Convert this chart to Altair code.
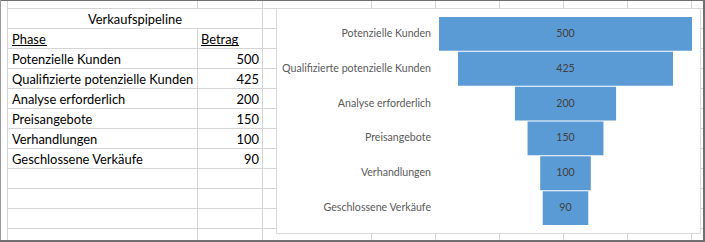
import altair as alt
import pandas as pd

# ---------------- data ----------------
sheet_title = "Verkaufspipeline"
col_headers = ["Phase", "Betrag"]
phases = [
    "Potenzielle Kunden",
    "Qualifizierte potenzielle Kunden",
    "Analyse erforderlich",
    "Preisangebote",
    "Verhandlungen",
    "Geschlossene Verkäufe",
]
amounts = [500, 425, 200, 150, 100, 90]

# ---------------- layout (pixels) ----------------
W, H = 705, 242
GRID = "#d4d4d4"
FRAME = "#6e6e6e"
FONT_SHEET = "Lato"
FONT_CHART = "Lato"
BLUE = "#5B9BD5"
FS_SHEET = 12.9
FS_CHART = 10.6

row_lines = [8, 28, 48, 68, 88, 108, 128, 148, 168, 188, 208, 228]
# vertical gridline segments: (x, y_from, y_to)
col_segments = [
    (7, 0, 240), (197, 0, 8), (197, 28, 240), (262, 0, 240),
    (371, 0, 240), (435, 0, 240), (499, 0, 240), (563, 0, 240),
    (627, 0, 240), (691, 0, 240),
]

segs = []
for y in row_lines:
    segs.append(dict(x1=7, x2=W, y1=y + 0.5, y2=y + 0.5, c=GRID, w=1))
for x, a, b in col_segments:
    segs.append(dict(x1=x + 0.5, x2=x + 0.5, y1=a, y2=b, c=GRID, w=1))
# underlines of the header cells
segs.append(dict(x1=12, x2=47, y1=45.5, y2=45.5, c="#000000", w=1))
segs.append(dict(x1=201, x2=239, y1=45.5, y2=45.5, c="#000000", w=1))
seg_df = pd.DataFrame(segs)

frame = pd.DataFrame([
    dict(x1=0, x2=W, y1=0.5, y2=0.5, c=FRAME, w=1),
    dict(x1=0.5, x2=0.5, y1=0, y2=H, c="#9a9a9a", w=1),
    dict(x1=0, x2=W, y1=241, y2=241, c=FRAME, w=2),
    dict(x1=704, x2=704, y1=0, y2=H, c=FRAME, w=2),
])


def seg_layer(d):
    return alt.Chart(d).mark_rule().encode(
        x=alt.X("x1:Q", scale=None),
        x2="x2:Q",
        y=alt.Y("y1:Q", scale=None),
        y2="y2:Q",
        color=alt.Color("c:N", scale=None),
        strokeWidth=alt.StrokeWidth("w:Q", scale=None),
    )


grid = seg_layer(seg_df)

one = pd.DataFrame({"a": [0]})
chart_box = alt.Chart(one).mark_rect(fill="white", stroke="#d9d9d9", strokeWidth=1).encode(
    x=alt.value(276.5), x2=alt.value(700.5), y=alt.value(8.5), y2=alt.value(233.5)
)

# ---------------- spreadsheet text ----------------
df = pd.DataFrame({"phase": phases, "amount": amounts})

title_txt = alt.Chart(pd.DataFrame({"t": [sheet_title]})).mark_text(
    font=FONT_SHEET, fontSize=FS_SHEET, align="center", baseline="alphabetic", color="#000"
).encode(x=alt.value(135), y=alt.value(24), text="t:N")

hdr_df = pd.DataFrame({"t": col_headers, "px": [12, 201]})
hdr_txt = alt.Chart(hdr_df).mark_text(
    font=FONT_SHEET, fontSize=FS_SHEET, align="left", baseline="alphabetic", color="#000"
).encode(x=alt.X("px:Q", scale=None), y=alt.value(44), text="t:N")

row_y = alt.Y(
    "phase:N",
    scale=alt.Scale(type="point", domain=phases, range=[64, 164], padding=0),
    axis=None,
)
phase_txt = alt.Chart(df).mark_text(
    font=FONT_SHEET, fontSize=FS_SHEET, align="left", baseline="alphabetic", color="#000"
).encode(x=alt.value(12), y=row_y, text="phase:N")
amount_txt = alt.Chart(df).mark_text(
    font=FONT_SHEET, fontSize=FS_SHEET, align="right", baseline="alphabetic", color="#000"
).encode(x=alt.value(259), y=row_y, text="amount:Q")

# ---------------- funnel chart ----------------
band_y = alt.Y(
    "phase:N",
    sort=phases,
    scale=alt.Scale(domain=phases, range=[17, 225], paddingInner=0.03, paddingOuter=0),
    axis=None,
)
half = max(amounts) / 2
funnel_x = alt.Scale(domain=[-half, half], range=[439, 692], nice=False, zero=False)

bars = alt.Chart(df).transform_calculate(
    lo="-datum.amount / 2", hi="datum.amount / 2"
).mark_bar(color=BLUE).encode(
    x=alt.X("lo:Q", scale=funnel_x, axis=None),
    x2="hi:Q",
    y=band_y,
)
values = alt.Chart(df).mark_text(
    font=FONT_CHART, fontSize=FS_CHART, align="center", baseline="middle", color="#404040"
).encode(x=alt.value(565.5), y=band_y, text="amount:Q")
labels = alt.Chart(df).mark_text(
    font=FONT_CHART, fontSize=FS_CHART, align="right", baseline="middle", color="#595959"
).encode(x=alt.value(431), y=band_y, text="phase:N")

chart = alt.layer(
    grid, chart_box, title_txt, hdr_txt, phase_txt, amount_txt,
    bars, values, labels, seg_layer(frame),
).resolve_scale(x="independent", y="independent").properties(
    width=W, height=H, padding=0, background="white",
    autosize=alt.AutoSizeParams(type="none"),
).configure_view(strokeWidth=0)

chart.save("out.html", embed_options={"renderer": "svg", "actions": False})
